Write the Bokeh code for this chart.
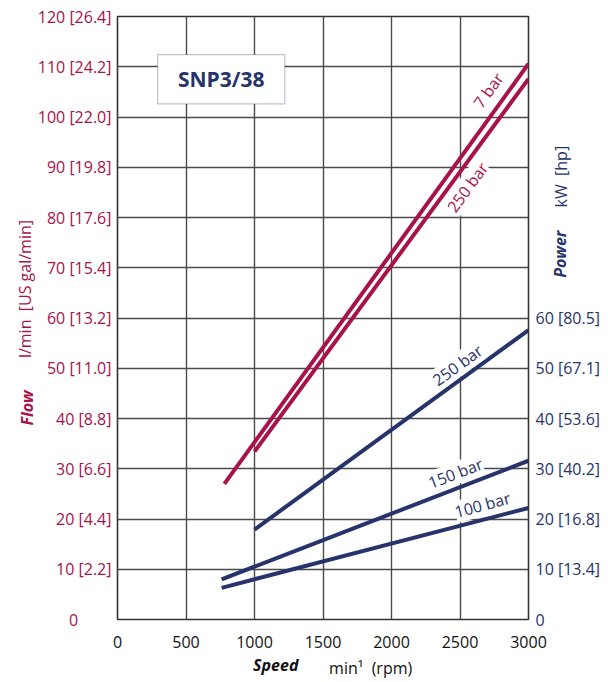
import math
from bokeh.plotting import figure
from bokeh.models import Range1d, LinearAxis, FixedTicker, Label, BoxAnnotation
from bokeh.embed import file_html
from bokeh.resources import INLINE

# ---- data ----
speed_ticks = [0, 500, 1000, 1500, 2000, 2500, 3000]
flow_ticks = [0, 10, 20, 30, 40, 50, 60, 70, 80, 90, 100, 110, 120]
flow_tick_labels = ["0", "10 [2.2]", "20 [4.4]", "30 [6.6]", "40 [8.8]", "50 [11.0]",
                    "60 [13.2]", "70 [15.4]", "80 [17.6]", "90 [19.8]", "100 [22.0]",
                    "110 [24.2]", "120 [26.4]"]
power_ticks = [0, 10, 20, 30, 40, 50, 60]
power_tick_labels = ["0", "10 [13.4]", "20 [16.8]", "30 [40.2]", "40 [53.6]",
                     "50 [67.1]", "60 [80.5]"]

flow_7bar_speed = [780, 3000]
flow_7bar = [27.0, 110.6]
flow_250bar_speed = [1000, 3000]
flow_250bar = [33.4, 107.6]

power_250bar_speed = [1000, 3000]
power_250bar = [17.9, 57.6]
power_150bar_speed = [760, 3000]
power_150bar = [8.0, 31.6]
power_100bar_speed = [760, 3000]
power_100bar = [6.3, 22.2]

RED = "#A8124A"
NAVY = "#27336B"
GRID = "#4a4a4a"
BLACK = "#111111"
FONT = "Open Sans"
FS = "16px"
SP2 = " \u00a0"

p = figure(width=608, height=682, x_range=Range1d(0, 3000), y_range=Range1d(0, 120),
           output_backend="svg", toolbar_location=None,
           min_border_left=116, min_border_right=80, min_border_top=16, min_border_bottom=63)
p.extra_y_ranges = {"power": Range1d(0, 120)}

p.outline_line_color = "#333333"
p.outline_line_width = 1.6
p.background_fill_color = "white"
p.border_fill_color = "white"

# grid
p.xgrid.ticker = FixedTicker(ticks=speed_ticks)
p.ygrid.ticker = FixedTicker(ticks=flow_ticks)
for g in (p.xgrid, p.ygrid):
    g.grid_line_color = GRID
    g.grid_line_width = 1.4


def style_axis(ax, color, standoff, style="normal", orientation="horizontal"):
    ax.axis_line_color = None
    ax.major_tick_line_color = None
    ax.minor_tick_line_color = None
    ax.major_tick_out = 0
    ax.major_tick_in = 0
    ax.minor_tick_out = 0
    ax.minor_tick_in = 0
    ax.major_label_standoff = standoff
    ax.major_label_text_font = FONT
    ax.major_label_text_font_size = FS
    ax.major_label_text_font_style = style
    ax.major_label_text_color = color
    ax.major_label_orientation = orientation


def title_axis(place, pos, text, color, standoff, style, vertical, range_name=None):
    kw = {"y_range_name": range_name} if range_name else {}
    ax = LinearAxis(ticker=FixedTicker(ticks=[pos]), **kw)
    ax.major_label_overrides = {pos: text}
    style_axis(ax, color, standoff, style, math.pi / 2 if vertical else "horizontal")
    p.add_layout(ax, place)
    return ax


# x axis (speed)
xa = p.xaxis[0]
xa.ticker = FixedTicker(ticks=speed_ticks)
style_axis(xa, BLACK, 16)

# left axis (flow)
ya = p.yaxis[0]
ya.ticker = FixedTicker(ticks=flow_ticks)
ya.major_label_overrides = {t: (l if l != "0" else "0" + "\u00a0" * 8)
                            for t, l in zip(flow_ticks, flow_tick_labels)}
style_axis(ya, RED, 6)

# left titles
title_axis("left", 79.5, "l/min" + SP2 + "[US gal/min]", RED, 9, "normal", True)
title_axis("left", 45.6, "Flow", RED, -27, "bold italic", True)

# right titles, then the power tick labels
title_axis("right", 68, "Power", NAVY, 32, "bold italic", True)
title_axis("right", 82, "kW" + SP2 + "[hp]", NAVY, -24, "normal", True)
ra = LinearAxis(y_range_name="power", ticker=FixedTicker(ticks=power_ticks))
ra.major_label_overrides = {t: l for t, l in zip(power_ticks, power_tick_labels)}
style_axis(ra, NAVY, -51)
p.add_layout(ra, "right")

# bottom titles
title_axis("below", 1155, "Speed", BLACK, 3, "bold italic", False)
title_axis("below", 1848, "min\u00b9" + SP2 + "(rpm)", BLACK, -22, "normal", False)

# curves
p.line(flow_7bar_speed, flow_7bar, line_color=RED, line_width=4)
p.line(flow_250bar_speed, flow_250bar, line_color=RED, line_width=4)
p.line(power_250bar_speed, power_250bar, line_color=NAVY, line_width=4, y_range_name="power")
p.line(power_150bar_speed, power_150bar, line_color=NAVY, line_width=4, y_range_name="power")
p.line(power_100bar_speed, power_100bar, line_color=NAVY, line_width=4, y_range_name="power")


# curve labels
def curve_label(x, y, text, color, angle, y_range_name="default"):
    lab = Label(x=x, y=y, text=text, text_color=color, angle=angle, angle_units="deg",
                text_font=FONT, text_font_size=FS, text_align="center",
                text_baseline="middle", background_fill_color="white",
                background_fill_alpha=1.0, y_range_name=y_range_name)
    p.add_layout(lab)


curve_label(2708, 105.3, "7 bar", RED, 54)
curve_label(2555, 86.0, "250 bar", RED, 54)
curve_label(2482, 50.6, "250 bar", NAVY, 36, "power")
curve_label(2467, 29.1, "150 bar", NAVY, 21, "power")
curve_label(2664, 22.8, "100 bar", NAVY, 15, "power")

# title box
box = BoxAnnotation(left=293, right=1221, bottom=102.6, top=112.4,
                    fill_color="white", fill_alpha=1.0,
                    line_color=NAVY, line_width=1.2)
p.add_layout(box)
p.add_layout(Label(x=757, y=107.5, text="SNP3/38", text_color=NAVY, text_font=FONT,
                   text_font_size="21px", text_font_style="bold",
                   text_align="center", text_baseline="middle"))

open("out.html", "w").write(file_html(p, INLINE))
